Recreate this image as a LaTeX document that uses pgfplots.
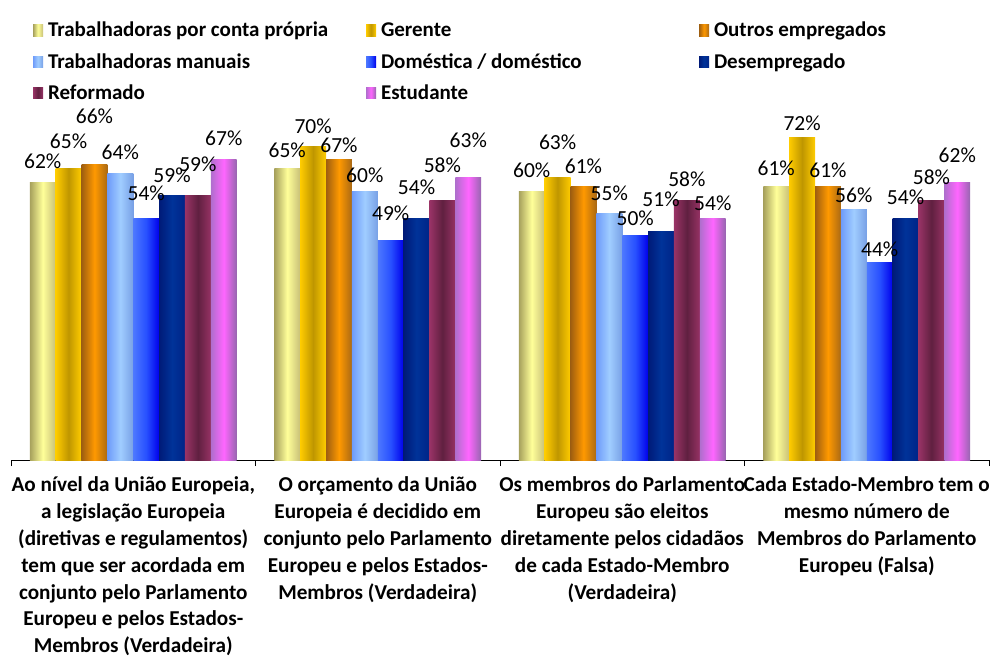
\documentclass[border=0pt]{standalone}
\usepackage{fontspec}
\setmainfont{Carlito}
\usepackage{pgfplots}
\pgfplotsset{compat=1.18}

\definecolor{c1l}{RGB}{166,160,92}\definecolor{c1m}{RGB}{255,255,153}\definecolor{c1r}{RGB}{200,192,120}
\definecolor{c2l}{RGB}{255,204,0}\definecolor{c2m}{RGB}{191,150,0}\definecolor{c2r}{RGB}{255,204,0}
\definecolor{c3l}{RGB}{158,94,16}\definecolor{c3m}{RGB}{255,153,0}\definecolor{c3r}{RGB}{170,105,20}
\definecolor{c4l}{RGB}{110,155,250}\definecolor{c4m}{RGB}{160,205,255}\definecolor{c4r}{RGB}{120,160,230}
\definecolor{c5l}{RGB}{77,120,255}\definecolor{c5m}{RGB}{40,80,255}\definecolor{c5r}{RGB}{0,0,235}
\definecolor{c6l}{RGB}{0,26,120}\definecolor{c6m}{RGB}{0,51,153}\definecolor{c6r}{RGB}{0,36,135}
\definecolor{c7l}{RGB}{153,51,102}\definecolor{c7m}{RGB}{96,32,64}\definecolor{c7r}{RGB}{150,50,100}
\definecolor{c8l}{RGB}{175,110,205}\definecolor{c8m}{RGB}{255,102,255}\definecolor{c8r}{RGB}{150,102,175}

\pgfplotsset{
  s1/.style={draw=none, left color=c1l, right color=c1r, middle color=c1m, bar shift=-0.3703},
  s2/.style={draw=none, left color=c2l, right color=c2r, middle color=c2m, bar shift=-0.2645},
  s3/.style={draw=none, left color=c3l, right color=c3r, middle color=c3m, bar shift=-0.1587},
  s4/.style={draw=none, left color=c4l, right color=c4r, middle color=c4m, bar shift=-0.0529},
  s5/.style={draw=none, left color=c5l, right color=c5r, middle color=c5m, bar shift=0.0529},
  s6/.style={draw=none, left color=c6l, right color=c6r, middle color=c6m, bar shift=0.1587},
  s7/.style={draw=none, left color=c7l, right color=c7r, middle color=c7m, bar shift=0.2645},
  s8/.style={draw=none, left color=c8l, right color=c8r, middle color=c8m, bar shift=0.3703},
  lo/.style={every node near coord/.append style={yshift=#1}},
}

\newcommand{\legtxt}[1]{\makebox[318pt][l]{#1}}

\begin{document}
\begin{tikzpicture}
\useasboundingbox (0,0) rectangle (1008pt,661pt);
\begin{axis}[
  at={(11pt,201pt)}, anchor=south west,
  scale only axis, width=978pt, height=358.4pt,
  xmin=-0.5, xmax=3.5, ymin=0, ymax=80,
  ybar=0pt, bar width=0.1058,
  axis x line=bottom, axis y line=none,
  axis line style={-, black, line width=1pt},
  xtick={-0.5,0.5,1.5,2.5,3.5}, xticklabels={,,,,},
  xtick align=outside, major tick length=6pt,
  tick style={black, line width=1pt},
  ytick=\empty,
  extra x ticks={0,1,2,3},
  extra x tick labels={
    {Ao nível da União Europeia,\\a legislação Europeia\\(diretivas e regulamentos)\\tem que ser acordada em\\conjunto pelo Parlamento\\Europeu e pelos Estados-\\Membros (Verdadeira)},
    {O orçamento da União\\Europeia é decidido em\\conjunto pelo Parlamento\\Europeu e pelos Estados-\\Membros (Verdadeira)},
    {Os membros do Parlamento\\Europeu são eleitos\\diretamente pelos cidadãos\\de cada Estado-Membro\\(Verdadeira)},
    {Cada Estado-Membro tem o\\mesmo número de\\Membros do Parlamento\\Europeu (Falsa)}},
  extra x tick style={major tick length=0pt,
    xticklabel style={align=center, font=\fontsize{21.2}{26.9}\selectfont\bfseries, yshift=-13pt}},
  nodes near coords={\pgfmathprintnumber[assume math mode=true]{\pgfplotspointmeta}\%},
  every node near coord/.append style={font=\fontsize{21.5}{24}\selectfont, anchor=base, inner sep=0pt, yshift=8pt, text=black},
  clip=false,
  legend columns=3, legend cell align=left,
  legend image code/.code={\path[#1] (0pt,-6pt) rectangle (10pt,5.5pt);},
  legend style={draw=none, fill=none, inner sep=0pt, outer sep=0pt,
    nodes={inner sep=0pt},
    font=\fontsize{21}{24}\selectfont\bfseries,
    row sep=15pt,
    at={(axis description cs:0.0225,1.2215)}, anchor=north west,
    /tikz/every odd column/.append style={column sep=5pt},
    /tikz/every even column/.append style={column sep=0pt}},
]
% Trabalhadoras por conta própria
\addplot[s1, lo=6pt] coordinates {(0,62)};
\addlegendentry{\legtxt{Trabalhadoras por conta própria}}
\addplot[s1, lo=3pt, forget plot] coordinates {(1,65)};
\addplot[s1, lo=5.5pt, forget plot] coordinates {(2,60)};
\addplot[s1, lo=3.4pt, forget plot] coordinates {(3,61)};
% Gerente
\addplot[s2, lo=12pt] coordinates {(0,65)};
\addlegendentry{\legtxt{Gerente}}
\addplot[s2, lo=5pt, forget plot] coordinates {(1,70)};
\addplot[s2, lo=20.5pt, forget plot] coordinates {(2,63)};
\addplot[s2, lo=-1pt, forget plot] coordinates {(3,72)};
% Outros empregados
\addplot[s3, lo=33pt] coordinates {(0,66)};
\addlegendentry{\legtxt{Outros empregados}}
\addplot[s3, lo=-1pt, forget plot] coordinates {(1,67)};
\addplot[s3, lo=5pt, forget plot] coordinates {(2,61)};
\addplot[s3, lo=1.7pt, forget plot] coordinates {(3,61)};
% Trabalhadoras manuais
\addplot[s4, lo=6pt] coordinates {(0,64)};
\addlegendentry{\legtxt{Trabalhadoras manuais}}
\addplot[s4, lo=1pt, forget plot] coordinates {(1,60)};
\addplot[s4, lo=5pt, forget plot] coordinates {(2,55)};
\addplot[s4, lo=-1.6pt, forget plot] coordinates {(3,56)};
% Doméstica / doméstico
\addplot[s5, lo=10pt] coordinates {(0,54)};
\addlegendentry{\legtxt{Doméstica / doméstico}}
\addplot[s5, lo=12pt, forget plot] coordinates {(1,49)};
\addplot[s5, lo=2pt, forget plot] coordinates {(2,50)};
\addplot[s5, lo=-2pt, forget plot] coordinates {(3,44)};
% Desempregado
\addplot[s6, lo=5pt] coordinates {(0,59)};
\addlegendentry{\legtxt{Desempregado}}
\addplot[s6, lo=16pt, forget plot] coordinates {(1,54)};
\addplot[s6, lo=17.5pt, forget plot] coordinates {(2,51)};
\addplot[s6, lo=5.7pt, forget plot] coordinates {(3,54)};
% Reformado
\addplot[s7, lo=16pt] coordinates {(0,59)};
\addlegendentry{\legtxt{Reformado}}
\addplot[s7, lo=19.5pt, forget plot] coordinates {(1,58)};
\addplot[s7, lo=6pt, forget plot] coordinates {(2,58)};
\addplot[s7, lo=8pt, forget plot] coordinates {(3,58)};
% Estudante
\addplot[s8, lo=6pt] coordinates {(0,67)};
\addlegendentry{\legtxt{Estudante}}
\addplot[s8, lo=22pt, forget plot] coordinates {(1,63)};
\addplot[s8, lo=0pt, forget plot] coordinates {(2,54)};
\addplot[s8, lo=12pt, forget plot] coordinates {(3,62)};
\end{axis}
\end{tikzpicture}
\end{document}
